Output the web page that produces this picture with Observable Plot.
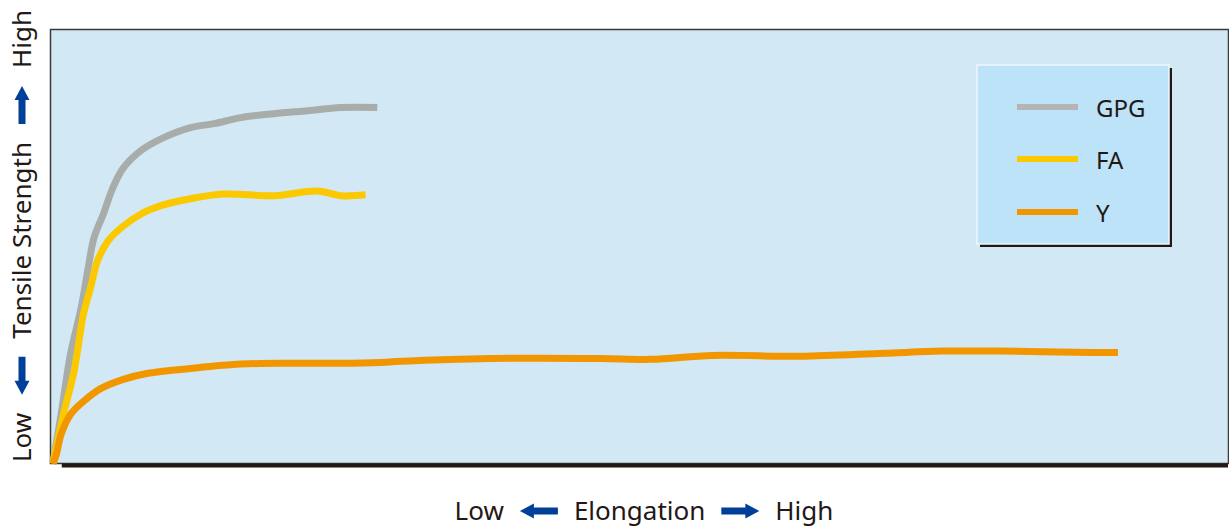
<!DOCTYPE html>
<html><head><meta charset="utf-8">
<script src="https://cdn.jsdelivr.net/npm/d3@7"></script>
<script src="https://cdn.jsdelivr.net/npm/@observablehq/plot@0.6"></script>
<style>body{margin:0;background:#fff;} svg{display:block;}</style>
</head><body><div id="chart"></div>
<script>
// Series (arbitrary units: elongation 0–100, tensile strength 0–100)
const seriesNames = ["GPG", "FA", "Y"];
const seriesColors = ["#a8adaa", "#fcc800", "#f29600"];
const legendColors = ["#b5b5b5", "#fcc800", "#f29600"];

const gpgElongation = [0, 0.7, 1.5, 2.4, 3.0, 3.5, 4.3, 5.1, 6.0, 7.5, 9.2, 11.7, 13.7, 16.0, 18.8, 21.7, 24.5, 27.6];
const gpgStrength   = [0, 11.3, 25.2, 35.8, 45.0, 52.0, 57.5, 63.5, 68.1, 72.1, 74.8, 77.4, 78.3, 79.7, 80.6, 81.3, 82.0, 82.0];

const faElongation = [0, 0.9, 1.8, 2.6, 3.2, 3.8, 4.7, 5.8, 7.5, 9.2, 11.7, 14.5, 18.8, 22.5, 24.5, 26.6];
const faStrength   = [0, 11.3, 21.2, 34.4, 40.4, 46.7, 51.3, 54.3, 57.5, 59.4, 61.0, 62.1, 61.7, 62.8, 61.7, 61.9];

const yElongation = [0, 0.3, 0.7, 1.5, 2.6, 4.1, 6.0, 8.1, 11.7, 16.0, 20.2, 24.5, 27.9, 31.6, 37.3, 46.6, 50.9, 56.1, 63.6, 70.7, 75.7, 80.6, 88.5, 90.6];
const yStrength   = [0, 2.1, 6.7, 11.3, 14.3, 17.3, 19.4, 20.8, 21.9, 22.9, 23.1, 23.1, 23.3, 23.8, 24.2, 24.2, 24.0, 24.9, 24.7, 25.4, 25.9, 25.9, 25.6, 25.6];

const xLabelParts = ["Low", "Elongation", "High"];
const yLabelParts = ["Low", "Tensile Strength", "High"];

const seriesX = [gpgElongation, faElongation, yElongation];
const seriesY = [gpgStrength, faStrength, yStrength];
const rows = seriesNames.flatMap((name, k) =>
  seriesX[k].map((e, i) => ({name, e, s: seriesY[k][i]})));

const FONT = "'Noto Sans', 'Noto Sans CJK JP', sans-serif";
const TEXT = "#231815";
const BLUE = "#004098";

const plot = Plot.plot({
  width: 1229, height: 529,
  marginLeft: 50, marginTop: 29, marginRight: 1, marginBottom: 66,
  x: {domain: [-0.2, 100], axis: null},
  y: {domain: [0, 100], axis: null},
  color: {domain: seriesNames, range: seriesColors},
  style: {background: "#ffffff", fontFamily: FONT},
  marks: [
    Plot.frame({fill: "#d2e8f5", stroke: "#3a3a3a", strokeWidth: 1.5}),
    Plot.ruleY([0], {x1: 0.8, x2: 100, stroke: TEXT, strokeWidth: 4, dy: 2}),
    Plot.line(rows, {x: "e", y: "s", z: "name", stroke: "name", strokeWidth: 7, curve: "catmull-rom", strokeLinecap: "butt"})
  ]
});
document.getElementById("chart").appendChild(plot);

const svg = d3.select(plot);

// Legend
const lg = svg.append("g").attr("transform", "translate(977,65)");
lg.append("rect").attr("x", 3).attr("y", 3).attr("width", 192).attr("height", 179).attr("fill", TEXT);
lg.append("rect").attr("x", 0).attr("y", 0).attr("width", 192).attr("height", 179)
  .attr("fill", "#bde3f8").attr("stroke", "#eef7fd").attr("stroke-width", 1.5);
seriesNames.forEach((name, i) => {
  const cy = [42, 94, 147][i];
  lg.append("line").attr("x1", 40).attr("x2", 101).attr("y1", cy).attr("y2", cy)
    .attr("stroke", legendColors[i]).attr("stroke-width", 6);
  lg.append("text").attr("x", 119).attr("y", cy + 10).text(name)
    .attr("text-anchor", "start")
    .attr("font-family", FONT).attr("font-size", 24).attr("fill", TEXT);
});

// Axis labels with arrows
function arrowPath(L) {
  const h = 14, s = 3.5, a = 7.5;
  return `M0,${-s}H${L - h}V${-a}L${L},0L${L - h},${a}V${s}H0Z`;
}
function axisLabel(parts, cx, cy, rot, size, gap) {
  const g = svg.append("g");
  let x = 0; const L = 38;
  parts.forEach((p, i) => {
    if (i > 0) {
      const dir = i === 1 ? -1 : 1;
      x += gap;
      const tr = dir > 0 ? `translate(${x},0)` : `translate(${x + L},0) scale(-1,1)`;
      g.append("path").attr("d", arrowPath(L)).attr("transform", tr).attr("fill", BLUE);
      x += L + gap;
    }
    const t = g.append("text").attr("x", x).attr("y", 0).attr("dy", "0.36em").text(p)
      .attr("text-anchor", "start")
      .attr("font-family", FONT).attr("font-size", size).attr("fill", TEXT);
    x += t.node().getComputedTextLength();
  });
  g.attr("transform", `translate(${cx},${cy}) rotate(${rot}) translate(${-x / 2},0)`);
}
axisLabel(xLabelParts, 644, 511, 0, 26, 16);
axisLabel(yLabelParts, 22, 236, -90, 26, 18);
</script>
</body></html>
